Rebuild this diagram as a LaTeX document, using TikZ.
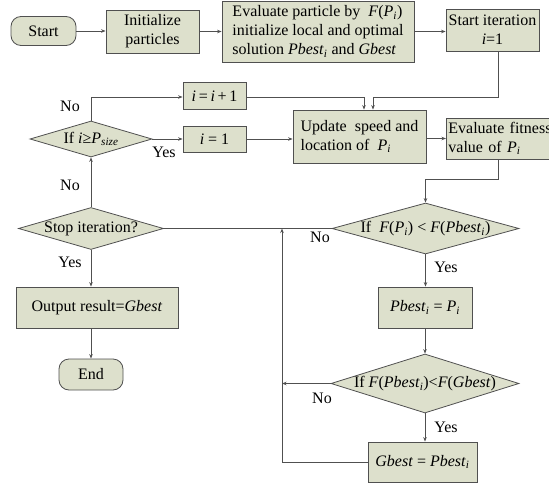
\documentclass[tikz,border=0pt]{standalone}
\usepackage{fontspec}
\setmainfont{Liberation Serif}
\usetikzlibrary{shapes.geometric,arrows.meta,calc}
\definecolor{boxfill}{RGB}{221,224,204}
\definecolor{edgec}{RGB}{80,80,80}
\newcommand{\xsubi}{\textsubscript{\textit{i}}}
\newcommand{\xit}[1]{\textit{#1}}
\begin{document}
\begin{tikzpicture}[x=1pt,y=-1pt,font=\fontsize{16}{19}\selectfont,
  box/.style={draw=edgec,fill=boxfill,line width=0.8pt,inner sep=2pt},
  term/.style={draw=edgec,fill=boxfill,line width=0.8pt,rounded corners=10pt,inner sep=2pt},
  dia/.style={diamond,draw=edgec,fill=boxfill,line width=0.8pt,inner sep=0pt},
  line/.style={draw=edgec,line width=0.8pt},
  arr/.style={line,-{Stealth[length=4.5pt,width=3.5pt]}},
  lbl/.style={inner sep=0pt}]
\useasboundingbox (0,0) rectangle (549,487);
\clip (0,0) rectangle (549,487);
% nodes
\node[term,minimum width=65pt,minimum height=29pt] (start) at (43.5,31) {Start};
\node[box,minimum width=93pt,minimum height=43pt,align=center] (init) at (152.5,31.5) {Initialize\\particles};
\node[box,minimum width=192pt,minimum height=61pt,align=left] (evalp) at (318,31.5) {Evaluate particle by \ \xit{F}(\xit{P}\xsubi)\\initialize local and optimal\\solution \xit{Pbest}\xsubi\ and \xit{Gbest}};
\node[box,minimum width=93pt,minimum height=42pt,align=center] (sti) at (492.5,30) {Start iteration\\\xit{i}=1};
\node[box,minimum width=133pt,minimum height=53pt,align=left] (upd) at (359.5,136.5) {Update \ speed and\\location of \ \xit{P}\xsubi};
\node[box,minimum height=41pt,text width=107pt,inner xsep=2pt,align=left,anchor=west] (evf) at (446,138.5) {Evaluate fitness\\value of \xit{P}\xsubi};
\node[box,minimum width=63pt,minimum height=27pt] (inc) at (214.5,96) {\xit{i}\,=\,\xit{i}\,+\,1};
\node[box,minimum width=63pt,minimum height=26pt] (one) at (214.5,139) {\xit{i} = 1};
\node[dia,minimum width=122pt,minimum height=36pt] (d1) at (91,139) {};
\node[lbl] (d1t) at (d1) {If \xit{i}≥\xit{P}\textsubscript{\xit{size}}};
\node[dia,minimum width=145pt,minimum height=42pt] (stop) at (91,228.5) {};
\node[lbl] (stopt) at (stop) {Stop iteration?};
\node[box,minimum width=162pt,minimum height=41pt] (out) at (97,307.5) {Output result=\xit{Gbest}};
\node[term,minimum width=64pt,minimum height=31pt] (endn) at (91,374.5) {End};
\node[dia,minimum width=187pt,minimum height=51pt] (d2) at (425.5,228.5) {};
\node[lbl] (d2t) at (d2) {If \ \xit{F}(\xit{P}\xsubi) < \xit{F}(\xit{Pbest}\xsubi)};
\node[box,minimum width=94pt,minimum height=41pt] (pb) at (425,307.5) {\xit{Pbest}\xsubi\ = \xit{P}\xsubi};
\node[dia,minimum width=188pt,minimum height=59pt] (d3) at (425,383.5) {};
\node[lbl] (d3t) at (d3) {If \xit{F}(\xit{Pbest}\xsubi)<\xit{F}(\xit{Gbest})};
\node[box,minimum width=109pt,minimum height=40pt] (gb) at (422.5,462) {\xit{Gbest} = \xit{Pbest}\xsubi};
% coordinates
\coordinate (c1) at (498,97);
\coordinate (m1) at (373,97);
\coordinate (m2) at (364,97);
\coordinate (c2) at (498,179);
\coordinate (c3) at (282,383.5);
\coordinate (c4) at (282,228.5);
% connectors
\draw[arr] (start.east) -- (init.west |- start.east);
\draw[arr] (init.east) -- (evalp.west |- init.east);
\draw[arr] (evalp.east |- init.east) -- (sti.west |- init.east);
\draw[arr] (sti.south -| c1) -- (c1) -- (m1) -- (m1 |- upd.north);
\draw[arr] (inc.east |- m2) -- (m2) -- (m2 |- upd.north);
\draw[arr] (d1.north) |- (inc.west |- m2);
\draw[arr] (d1.east) -- (one.west);
\draw[arr] (one.east) -- (one.east -| upd.west);
\draw[arr] (upd.east |- evf.west) -- (evf.west);
\draw[arr] (evf.south -| c2) -- (c2) -| (d2.north);
\draw[line] (stop.east) -- (d2.west);
\draw[arr] (stop.north) -- (d1.south);
\draw[arr] (stop.south) -- (stop.south |- out.north);
\draw[arr] (out.south -| stop.south) -- (endn.north);
\draw[arr] (d2.south) -- (d2.south |- pb.north);
\draw[arr] (pb.south) -- (pb.south |- d3.north);
\draw[arr] (d3.west) -- (c3);
\draw[arr] (d3.south) -- (d3.south |- gb.north);
\draw[arr] (gb.west) -| (c4);
% labels
\node[lbl] at (70,106) {No};
\node[lbl] at (164,152) {Yes};
\node[lbl] at (70,185) {No};
\node[lbl] at (70,262) {Yes};
\node[lbl] at (320,237) {No};
\node[lbl] at (446,267) {Yes};
\node[lbl] at (322,398) {No};
\node[lbl] at (446,427) {Yes};
\end{tikzpicture}
\end{document}
